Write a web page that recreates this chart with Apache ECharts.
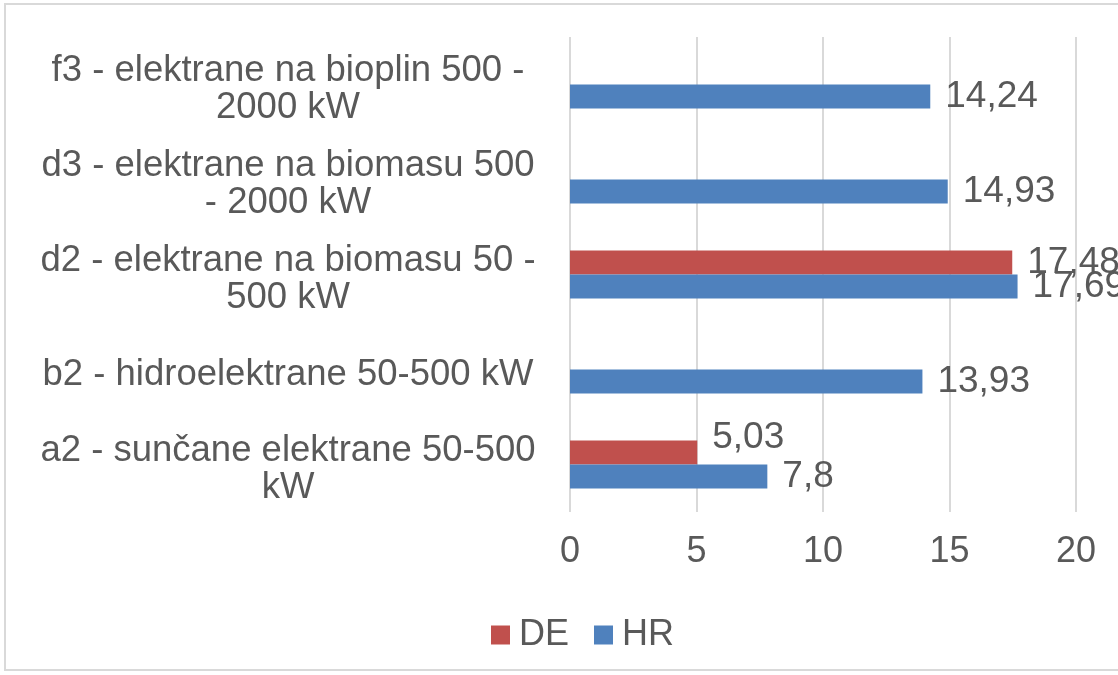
<!DOCTYPE html>
<html>
<head>
<meta charset="utf-8">
<script src="https://cdn.jsdelivr.net/npm/echarts@6/dist/echarts.min.js"></script>
<style>
  html, body { margin: 0; padding: 0; background: #fff; }
  #chart { width: 1118px; height: 675px; }
</style>
</head>
<body>
<div id="chart"></div>
<script>
// kategorije (odozdo prema gore)
const categories = [
  "a2 - sunčane elektrane 50-500\nkW",
  "b2 - hidroelektrane 50-500 kW",
  "d2 - elektrane na biomasu 50 -\n500 kW",
  "d3 - elektrane na biomasu 500\n- 2000 kW",
  "f3 - elektrane na bioplin 500 -\n2000 kW"
];
const deValues = [5.03, null, 17.48, null, null];
const hrValues = [7.8, 13.93, 17.69, 14.93, 14.24];
const xTicks = [0, 5, 10, 15, 20, 25];

const textColor = "#595959";
const font = "Liberation Sans, Arial, sans-serif";

// zarez umjesto točke
const fmt = (v) => String(v).replace(".", ",");

const chart = echarts.init(document.getElementById("chart"));

const option = {
  animation: false,
  textStyle: { fontFamily: font },
  graphic: [
    {
      type: "rect",
      shape: { x: 5, y: 4, width: 1200, height: 666 },
      style: { fill: "none", stroke: "#d9d9d9", lineWidth: 2 },
      silent: true
    }
  ],
  legend: {
    data: ["DE", "HR"],
    left: 486,
    top: 612,
    itemWidth: 19,
    itemHeight: 19,
    itemGap: 25,
    icon: "rect",
    textStyle: { fontSize: 36, color: textColor, fontFamily: font, padding: [0, 0, 0, 4] }
  },
  grid: {
    left: 570,
    top: 37,
    width: 632.5,
    height: 475,
    containLabel: false,
    outerBoundsMode: "none"
  },
  xAxis: {
    type: "value",
    min: xTicks[0],
    max: xTicks[xTicks.length - 1],
    interval: xTicks[1] - xTicks[0],
    axisLine: { show: false },
    axisTick: { show: false },
    splitLine: { lineStyle: { color: "#d9d9d9", width: 2 } },
    axisLabel: { fontSize: 36, color: textColor, fontFamily: font, margin: 22 }
  },
  yAxis: {
    type: "category",
    data: categories,
    axisLine: { show: false },
    axisTick: { show: false },
    axisLabel: {
      color: textColor,
      fontFamily: font,
      align: "center",
      margin: 282,
      // prazan red na vrhu spusti blok za par piksela
      formatter: (v) => "{s| }\n" + v.split("\n").map((l) => "{t|" + l + "}").join("\n"),
      rich: {
        s: { fontSize: 1, lineHeight: 10 },
        t: { fontSize: 36.5, lineHeight: 37, color: textColor, fontFamily: font }
      }
    }
  },
  series: [
    {
      name: "DE",
      type: "bar",
      data: deValues.map((v, i) => (i === 0 ? { value: v, label: { offset: [0, -15] } } : v)),
      barWidth: 24,
      barGap: "0%",
      itemStyle: { color: "#c0504d" },
      label: {
        show: true,
        position: "right",
        distance: 15,
        fontSize: 37,
        color: textColor,
        fontFamily: font,
        formatter: (p) => (p.value == null ? "" : fmt(p.value))
      }
    },
    {
      name: "HR",
      type: "bar",
      data: hrValues,
      barWidth: 24,
      barGap: "0%",
      itemStyle: { color: "#4f81bd" },
      label: {
        show: true,
        position: "right",
        distance: 15,
        fontSize: 37,
        color: textColor,
        fontFamily: font,
        formatter: (p) => fmt(p.value)
      }
    }
  ]
};

chart.setOption(option);
</script>
</body>
</html>
